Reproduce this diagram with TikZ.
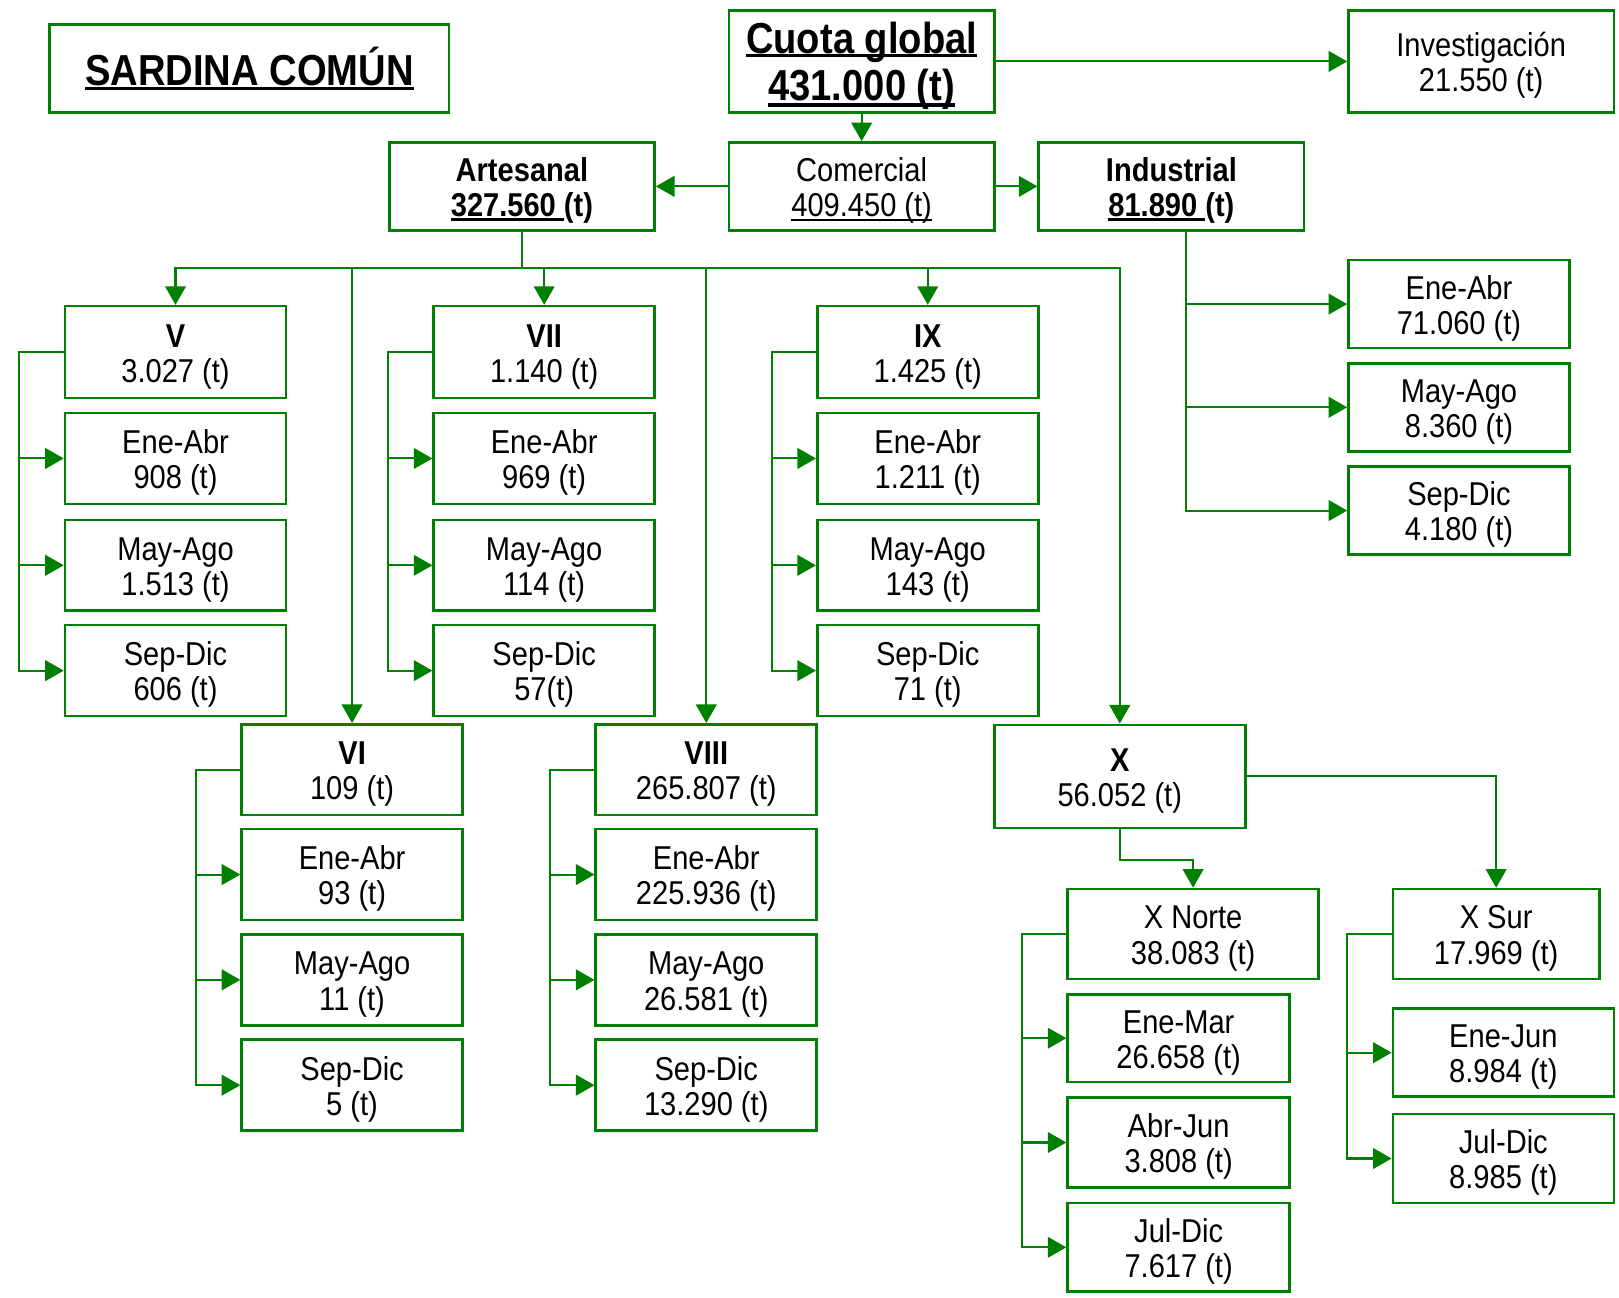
\documentclass[tikz,border=0pt]{standalone}
\usepackage{fontspec}
\setmainfont[FakeStretch=0.88]{Liberation Sans}
\usetikzlibrary{arrows.meta}
\definecolor{sg}{RGB}{0,128,0}
\newcommand{\fs}{\fontsize{32}{34}\selectfont}
\newcommand{\fbig}{\fontsize{42}{46}\selectfont}
\newcommand{\stn}{\rule{0pt}{31pt}}
\newcommand{\stb}{\rule{0pt}{39pt}}
% underline: #1 offset below baseline, #2 thickness, #3 text
\newcommand{\myul}[3]{\setbox0\hbox{#3}\rlap{\rule[-#1]{\wd0}{#2}}\box0}
\tikzset{
  box/.style={draw=sg, line width=2.5pt, align=center, inner sep=0pt, font=\fs, text=black},
  bigbox/.style={box, font=\fbig},
  sub/.style={box, minimum width=214pt, minimum height=88pt},
  hd/.style={box, minimum width=214pt, minimum height=89pt},
  topb/.style={box, minimum width=257pt, minimum height=85pt},
  arr/.style={draw=sg, line width=2pt, -{Triangle[length=18pt,width=20pt]}}
}
\begin{document}
\begin{tikzpicture}[x=1pt,y=-1pt]
\useasboundingbox (0,0) rectangle (1568,1257);

% top row
\node[bigbox, minimum width=387pt, minimum height=85pt] (title) at (241.5,66.5)
  {\bfseries\myul{5pt}{3.5pt}{SARDINA COMÚN}};
\node[bigbox, minimum width=257pt, minimum height=99pt] (cuota) at (834.5,59.5)
  {\stb\bfseries\myul{4pt}{3.5pt}{Cuota global}\\\bfseries\myul{6pt}{3.5pt}{431.000 (t)}};
\node[box, minimum width=257pt, minimum height=99pt] (inv) at (1434.5,59.5)
  {\stn Investigación\\21.550 (t)};

\node[topb] (art) at (505.5,180.5) {\stn\textbf{Artesanal}\\\bfseries\myul{4pt}{3pt}{327.560 }(t)};
\node[topb] (com) at (834.5,180.5) {\stn Comercial\\\myul{4pt}{1.5pt}{409.450 (t)}};
\node[topb] (ind) at (1134.5,180.5) {\stn\textbf{Industrial}\\\bfseries\myul{4pt}{3pt}{81.890 }(t)};

% industrial subdivisions
\node[box, minimum width=214pt, minimum height=85pt] (indea) at (1413,294.5) {\stn Ene-Abr\\71.060 (t)};
\node[box, minimum width=214pt, minimum height=85pt] (indma) at (1413,394.5) {\stn May-Ago\\8.360 (t)};
\node[box, minimum width=214pt, minimum height=85pt] (indsd) at (1413,494.5) {\stn Sep-Dic\\4.180 (t)};

% column V
\node[hd] (v) at (170,341) {\stn\textbf{V}\\3.027 (t)};
\node[sub] (vea) at (170,444) {\stn Ene-Abr\\908 (t)};
\node[sub] (vma) at (170,547.5) {\stn May-Ago\\1.513 (t)};
\node[sub] (vsd) at (170,649.5) {\stn Sep-Dic\\606 (t)};
% column VII
\node[hd] (vii) at (527,341) {\stn\textbf{VII}\\1.140 (t)};
\node[sub] (viiea) at (527,444) {\stn Ene-Abr\\969 (t)};
\node[sub] (viima) at (527,547.5) {\stn May-Ago\\114 (t)};
\node[sub] (viisd) at (527,649.5) {\stn Sep-Dic\\57(t)};
% column IX
\node[hd] (ix) at (898.5,341) {\stn\textbf{IX}\\1.425 (t)};
\node[sub] (ixea) at (898.5,444) {\stn Ene-Abr\\1.211 (t)};
\node[sub] (ixma) at (898.5,547.5) {\stn May-Ago\\143 (t)};
\node[sub] (ixsd) at (898.5,649.5) {\stn Sep-Dic\\71 (t)};
% column VI
\node[sub] (vi) at (341,745.5) {\stn\textbf{VI}\\109 (t)};
\node[sub] (viea) at (341,847) {\stn Ene-Abr\\93 (t)};
\node[sub] (vima) at (341,949) {\stn May-Ago\\11 (t)};
\node[sub] (visd) at (341,1051) {\stn Sep-Dic\\5 (t)};
% column VIII
\node[sub] (viii) at (684,745.5) {\stn\textbf{VIII}\\265.807 (t)};
\node[sub] (viiiea) at (684,847) {\stn Ene-Abr\\225.936 (t)};
\node[sub] (viiima) at (684,949) {\stn May-Ago\\26.581 (t)};
\node[sub] (viiisd) at (684,1051) {\stn Sep-Dic\\13.290 (t)};
% X
\node[box, minimum width=243pt, minimum height=100pt] (x) at (1084.5,752) {\stn\textbf{X}\\56.052 (t)};
\node[box, minimum width=243pt, minimum height=87pt] (xn) at (1155.5,904.5) {\stn X Norte\\38.083 (t)};
\node[box, minimum width=215pt, minimum height=85pt] (xnem) at (1141.5,1005.5) {\stn Ene-Mar\\26.658 (t)};
\node[box, minimum width=215pt, minimum height=87pt] (xnaj) at (1141.5,1106.5) {\stn Abr-Jun\\3.808 (t)};
\node[box, minimum width=215pt, minimum height=86pt] (xnjd) at (1141.5,1208) {\stn Jul-Dic\\7.617 (t)};
\node[box, minimum width=200pt, minimum height=87pt] (xs) at (1449,904.5) {\stn X Sur\\17.969 (t)};
\node[box, minimum width=214pt, minimum height=85pt] (xsej) at (1456,1019.5) {\stn Ene-Jun\\8.984 (t)};
\node[box, minimum width=214pt, minimum height=86pt] (xsjd) at (1456,1122) {\stn Jul-Dic\\8.985 (t)};

% top connectors
\draw[arr] (cuota.south) -- (com.north);
\draw[arr] (cuota.east) -- (inv.west);
\draw[arr] (com.west) -- (art.east);
\draw[arr] (com.east) -- (ind.west);

% industrial
\coordinate (indt) at (1149,223);
\draw[arr] (indt) |- (indea.west);
\draw[arr] (indt) |- (indma.west);
\draw[arr] (indt) |- (indsd.west);

% artesanal bus
\coordinate (bus) at (505.5,260);
\foreach \n in {v,vi,vii,viii,ix,x}{
  \draw[arr] (art.south) -- (bus) -| (\n.north);
}

% brackets
\foreach \h/\a/\b/\c in {v/vea/vma/vsd, vii/viiea/viima/viisd, ix/ixea/ixma/ixsd, vi/viea/vima/visd, viii/viiiea/viiima/viiisd}{
  \draw[arr] (\h.west) -- ++(-43,0) |- (\a.west);
  \draw[arr] (\h.west) -- ++(-43,0) |- (\b.west);
  \draw[arr] (\h.west) -- ++(-43,0) |- (\c.west);
}
\draw[arr] (xn.west) -- ++(-43,0) |- (xnem.west);
\draw[arr] (xn.west) -- ++(-43,0) |- (xnaj.west);
\draw[arr] (xn.west) -- ++(-43,0) |- (xnjd.west);
\draw[arr] (xs.west) -- ++(-43,0) |- (xsej.west);
\draw[arr] (xs.west) -- ++(-43,0) |- (xsjd.west);

% X split
\draw[arr] (x.south) -- ++(0,30) -| (xn.north);
\draw[arr] (x.east) -| (xs.north);
\end{tikzpicture}
\end{document}
